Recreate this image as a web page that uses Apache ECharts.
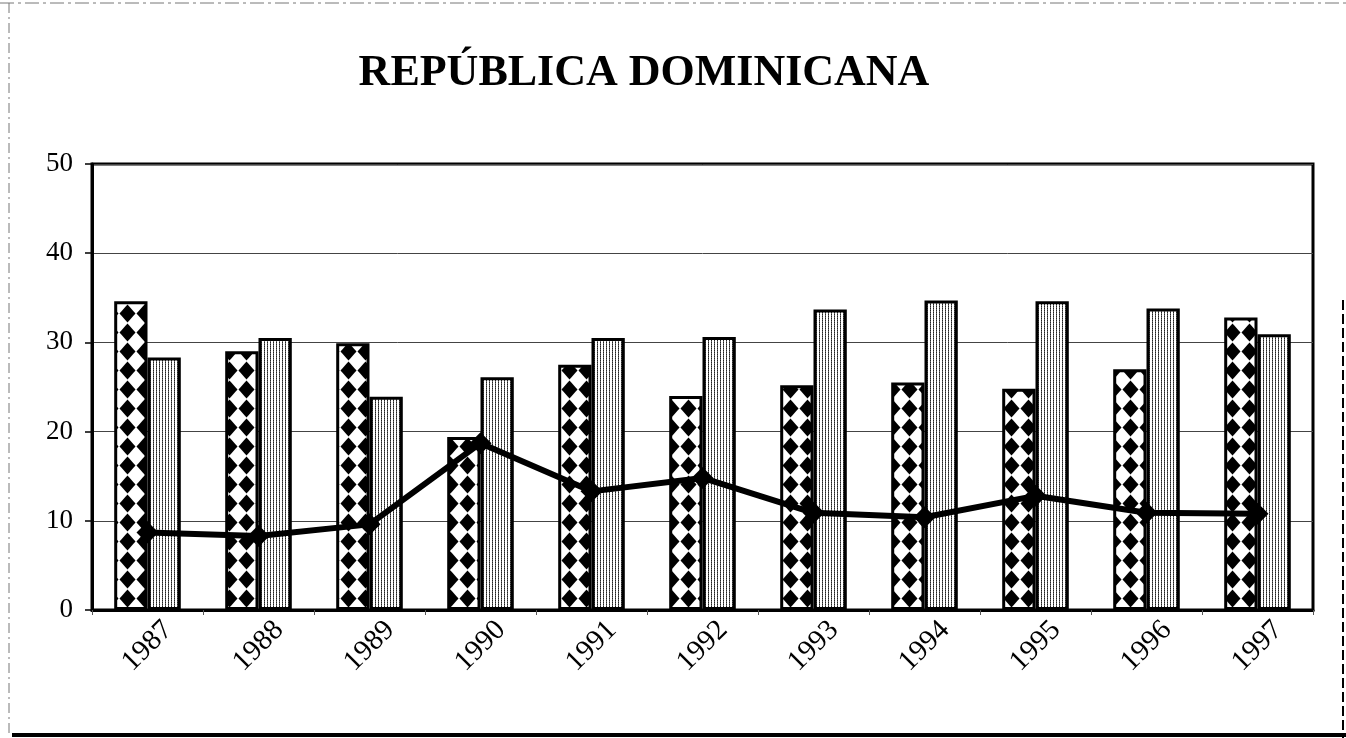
<!DOCTYPE html>
<html>
<head>
<meta charset="utf-8">
<script src="https://cdn.jsdelivr.net/npm/echarts@6/dist/echarts.min.js"></script>
<style>
  html, body { margin: 0; padding: 0; background: #fff; }
  #chart { width: 1346px; height: 738px; }
</style>
</head>
<body>
<div id="chart"></div>
<script>
// data
var years = ['1987', '1988', '1989', '1990', '1991', '1992', '1993', '1994', '1995', '1996', '1997']
var diamondBars = [34.6, 29.0, 29.9, 19.4, 27.5, 24.0, 25.2, 25.5, 24.8, 27.0, 32.8]
var stripedBars = [28.3, 30.5, 23.9, 26.1, 30.5, 30.6, 33.7, 34.7, 34.6, 33.8, 30.9]
var lineValues = [8.7, 8.3, 9.6, 18.7, 13.3, 14.8, 10.9, 10.4, 12.8, 10.9, 10.8]
var yTicks = [0, 10, 20, 30, 40, 50]

// black diamonds on white
function diamondPattern() {
  var c = document.createElement('canvas')
  c.width = 17
  c.height = 19
  var ctx = c.getContext('2d')
  ctx.fillStyle = '#fff'
  ctx.fillRect(0, 0, 17, 19)
  ctx.fillStyle = '#000'
  ctx.beginPath()
  ctx.moveTo(8.5, 0.5)
  ctx.lineTo(16.5, 9.5)
  ctx.lineTo(8.5, 18.5)
  ctx.lineTo(0.5, 9.5)
  ctx.closePath()
  ctx.fill()
  return c
}

// thin vertical stripes
function stripePattern() {
  var c = document.createElement('canvas')
  c.width = 3
  c.height = 2
  var ctx = c.getContext('2d')
  ctx.fillStyle = '#fff'
  ctx.fillRect(0, 0, 3, 2)
  ctx.fillStyle = '#222'
  ctx.fillRect(0, 0, 1, 1)
  ctx.fillStyle = '#666'
  ctx.fillRect(0, 1, 1, 1)
  return c
}

var chart = echarts.init(document.getElementById('chart'))

chart.setOption({
  animation: false,
  backgroundColor: '#fff',
  grid: {
    left: 92,
    right: 33,
    top: 164,
    bottom: 128,
    show: true,
    borderColor: '#000',
    borderWidth: 3
  },
  graphic: [
    {
      type: 'text',
      x: 644,
      y: 74,
      style: {
        text: 'REPÚBLICA DOMINICANA',
        font: 'bold 44px "Liberation Serif"',
        fill: '#000',
        textAlign: 'center',
        textVerticalAlign: 'middle'
      }
    },
    {
      type: 'line',
      shape: { x1: 0, y1: 3, x2: 1346, y2: 3 },
      style: { stroke: '#777', lineWidth: 1, lineDash: [14, 4, 3, 4] }
    },
    {
      type: 'line',
      shape: { x1: 9, y1: 3, x2: 9, y2: 735 },
      style: { stroke: '#777', lineWidth: 1, lineDash: [10, 4, 2, 4] }
    },
    {
      type: 'line',
      shape: { x1: 12, y1: 735, x2: 1346, y2: 735 },
      style: { stroke: '#000', lineWidth: 4 }
    },
    {
      type: 'line',
      shape: { x1: 1343, y1: 300, x2: 1343, y2: 738 },
      style: { stroke: '#000', lineWidth: 2, lineDash: [10, 4] }
    }
  ],
  xAxis: {
    type: 'category',
    data: years,
    axisLine: { lineStyle: { color: '#000', width: 3 } },
    axisTick: { show: true, length: 5, lineStyle: { color: '#555', width: 1 } },
    axisLabel: {
      rotate: 45,
      align: 'center',
      verticalAlign: 'middle',
      margin: 36,
      fontFamily: 'Liberation Serif',
      fontSize: 29,
      color: '#000'
    },
    splitLine: { show: false }
  },
  yAxis: {
    type: 'value',
    min: 0,
    max: 50,
    interval: 10,
    axisLine: { show: true, lineStyle: { color: '#000', width: 3 } },
    axisTick: { show: true, length: 7, lineStyle: { color: '#000', width: 1.5 } },
    axisLabel: {
      margin: 19,
      fontFamily: 'Liberation Serif',
      fontSize: 27,
      color: '#000',
      formatter: function (v) {
        return yTicks.indexOf(v) >= 0 ? String(v) : ''
      }
    },
    splitLine: { lineStyle: { color: '#444', width: 1 } }
  },
  series: [
    {
      type: 'bar',
      data: diamondBars,
      barGap: '0%',
      barCategoryGap: '40%',
      itemStyle: {
        color: { image: diamondPattern(), repeat: 'repeat' },
        borderColor: '#000',
        borderWidth: 3
      }
    },
    {
      type: 'bar',
      data: stripedBars,
      itemStyle: {
        color: { image: stripePattern(), repeat: 'repeat' },
        borderColor: '#000',
        borderWidth: 3
      }
    },
    {
      type: 'line',
      data: lineValues,
      symbol: 'diamond',
      symbolSize: 22,
      z: 5,
      lineStyle: { color: '#000', width: 6 },
      itemStyle: { color: '#000' }
    }
  ]
})
</script>
</body>
</html>
